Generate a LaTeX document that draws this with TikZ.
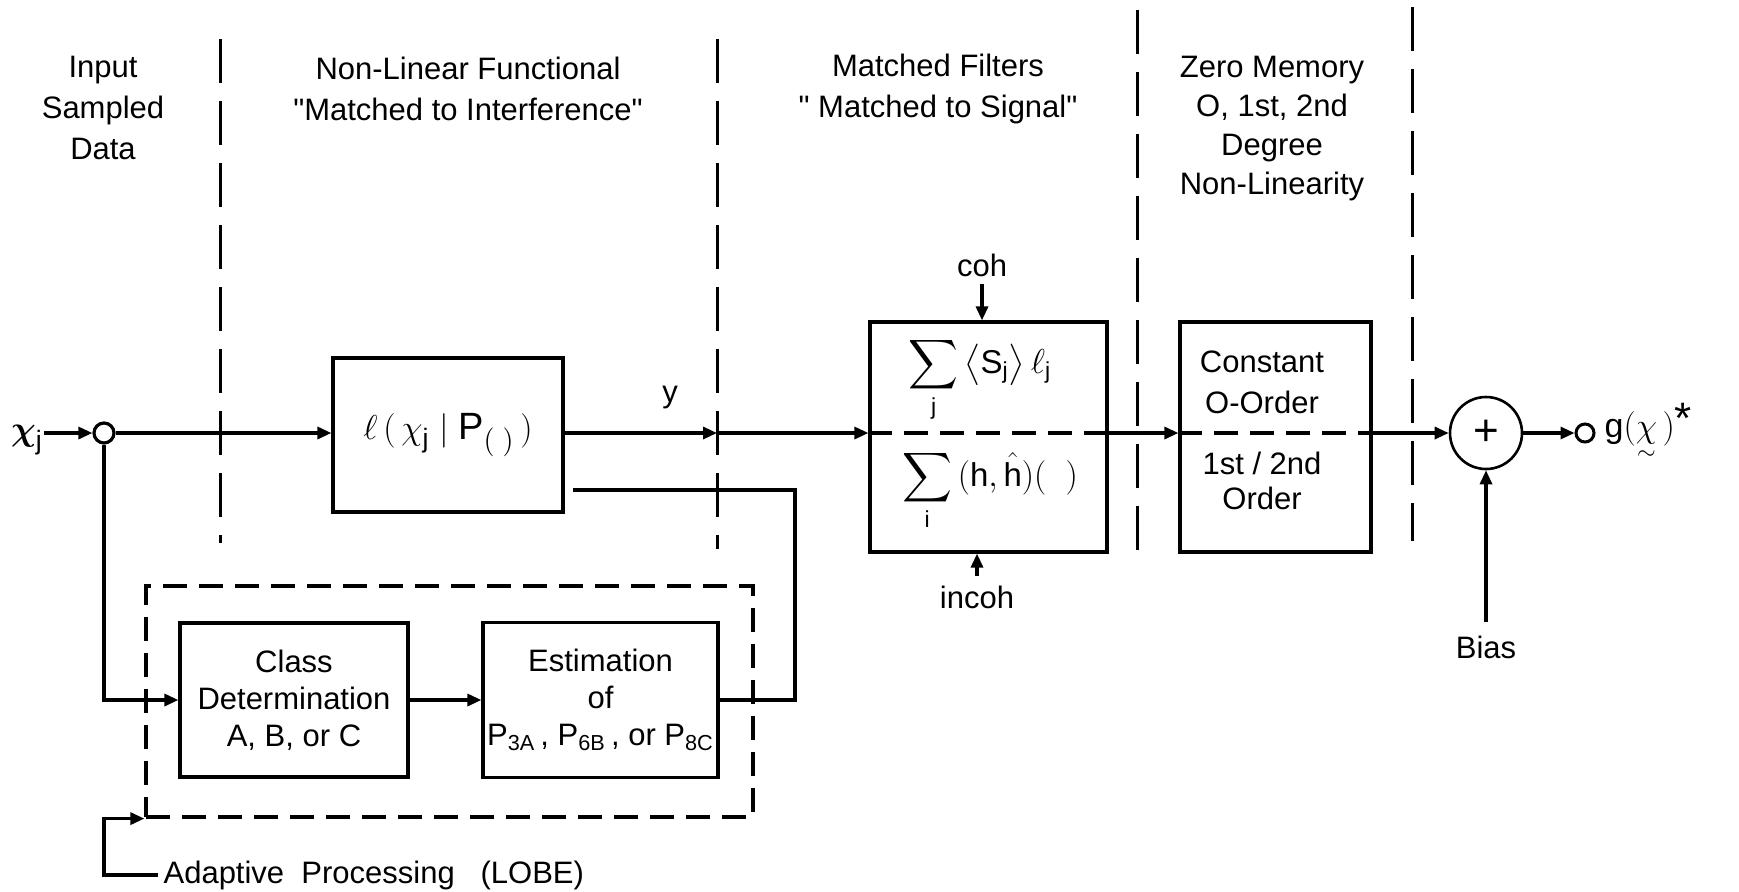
\documentclass[tikz,border=0pt]{standalone}
\usepackage{amsmath}
\usepackage{fontspec}
\setmainfont{Liberation Sans}
\usetikzlibrary{arrows.meta,calc}
\newcommand{\qd}{\textquotedbl}
\begin{document}
\begin{tikzpicture}[x=0.5pt,y=-0.5pt,
  font=\fontsize{15.5pt}{20.5pt}\selectfont,
  line width=1.6pt,
  blk/.style={draw,line width=1.6pt,inner sep=0pt,align=center,font=\fontsize{15.5pt}{18.5pt}\selectfont},
  conn/.style={line width=1.6pt},
  arr/.style={conn,-{Triangle[length=7pt,width=6pt]}},
  sep/.style={line width=1.5pt,dash pattern=on 22pt off 9pt},
  bdash/.style={line width=1.6pt,dash pattern=on 12pt off 6pt},
  lbl/.style={align=center,inner sep=0pt},
]
\useasboundingbox (0,0) rectangle (1739,891);

% headers
\node[lbl] (hin) at (103,108) {Input\\Sampled\\Data};
\node[lbl] (hnl) at (468,89) {Non-Linear Functional\\\qd Matched to Interference\qd};
\node[lbl] (hmf) at (938,89) {Matched Filters\\\qd\ Matched to Signal\qd};
\node[lbl,font=\fontsize{15.5pt}{19.5pt}\selectfont] (hzm) at (1272,129) {Zero Memory\\O, 1st, 2nd\\Degree\\Non-Linearity};

% separators
\draw[sep] (220,39) -- (220,543);
\draw[sep] (717,39) -- (717,549);
\draw[sep] (1137,10) -- (1137,555);
\draw[sep] (1412,7) -- (1412,541);

% main chain
\node[lbl,font=\fontsize{19pt}{20pt}\selectfont] (xj) at (27,440) {$\boldsymbol{\chi}_{\mathrm{j}}$};
\node[draw,circle,minimum size=10pt,inner sep=0pt] (in) at (104,433) {};
\node[blk,minimum width=115pt,minimum height=77pt,font=\fontsize{19pt}{20pt}\selectfont] (ell) at (448,435)
  {$\ell\,(\,\chi_{\mathrm{j}}\mid \mathrm{P}_{(\;)}\,)$};
\coordinate (ycross) at (717,433);
\node[lbl] (ylbl) at (670,398) {y};

\node[blk,minimum width=118.5pt,minimum height=115pt] (mf) at (988.5,437) {};
\node[lbl,anchor=base,font=\fontsize{16.5pt}{20pt}\selectfont] (mfu) at (980,373)
  {$\smash{\displaystyle\sum_{\mathrm{j}}\big\langle \mathrm{S}_{\mathrm{j}}\big\rangle\,\ell_{\mathrm{j}}}$};
\node[lbl,anchor=base,font=\fontsize{16.5pt}{20pt}\selectfont] (mfl) at (990,486)
  {$\smash{\displaystyle\sum_{\mathrm{i}}\,(\mathrm{h},\hat{\mathrm{h}})(\;\;)}$};
\node[lbl] (coh) at (982,265) {coh};
\node[lbl] (incoh) at (977,597) {incoh};

\node[blk,minimum width=95.5pt,minimum height=115pt] (zm) at (1275.5,437) {};
\node[lbl,font=\fontsize{15.5pt}{20.5pt}\selectfont] (zmu) at (1262,382) {Constant\\O-Order};
\node[lbl,font=\fontsize{15.5pt}{17.5pt}\selectfont] (zml) at (1262,481) {1st / 2nd\\Order};

\node[draw,circle,minimum size=36pt,inner sep=0pt,line width=1.3pt,font=\fontsize{22pt}{22pt}\selectfont] (sum) at (1486,433) {+};
\node[lbl] (bias) at (1486,647) {Bias};
\node[draw,circle,minimum size=9pt,inner sep=0pt,line width=1.5pt] (out) at (1585,433) {};
\node[anchor=west,inner sep=0pt,font=\fontsize{17pt}{20pt}\selectfont] (g) at (1603,437)
  {$\mathrm{g}(\underset{\raisebox{4pt}{$\scriptstyle\sim$}}{\chi}\,)$\raisebox{2pt}{\fontsize{22pt}{22pt}\selectfont *}};

% lower part
\node[blk,minimum width=114pt,minimum height=77pt] (class) at (294,700) {Class\\Determination\\A, B, or C};
\node[blk,minimum width=117.5pt,minimum height=77.5pt] (est) at (600.5,700)
  {Estimation\\of\\$\mathrm{P}_{\mathrm{3A}}$\,,\ $\mathrm{P}_{\mathrm{6B}}$\,, or $\mathrm{P}_{\mathrm{8C}}$};
\node[draw,bdash,minimum width=303.5pt,minimum height=115.5pt,inner sep=0pt] (lobe) at (449.5,701.5) {};
\node[anchor=west,inner sep=2pt] (adapt) at (158,875) {Adaptive \ Processing \ \ (LOBE)};

\coordinate (fbs) at (573,490);
\coordinate (fbc) at (795,700);

% connectors
\draw[arr] (in.west -| xj.east) -- (in.west);
\draw[arr] (in.east) -- (in.east -| ell.west);
\draw[arr] (ell.east |- ycross) -- (ycross);
\draw[arr] (ycross) -- (ycross -| mf.west);
\draw[bdash] (mf.west |- ycross) -- (mf.east |- ycross);
\draw[arr] (mf.east |- ycross) -- (ycross -| zm.west);
\draw[bdash] (zm.west |- ycross) -- (zm.east |- ycross);
\draw[arr] (zm.east |- ycross) -- (sum.west);
\draw[arr] (sum.east) -- (out.west);
\draw[arr,shorten <=3pt] (coh.south) -- (coh.south |- mf.north);
\draw[arr,shorten <=4pt] (incoh.north) -- (incoh.north |- mf.south);
\draw[arr,shorten <=6pt] (bias.north) -- (sum.south);
\draw[conn] (fbs) -| (fbc) -- (est.east);
\draw[arr] (in.south) |- (class.west);
\draw[arr] (class.east) -- (est.west);
\draw[arr] (adapt.west) -- (adapt.west -| in.south) -- (lobe.south west -| in.south) -- (lobe.south west);
\end{tikzpicture}
\end{document}
